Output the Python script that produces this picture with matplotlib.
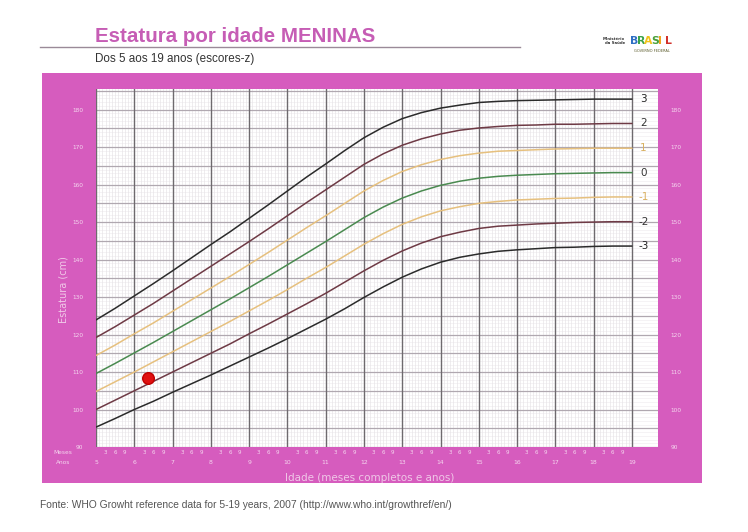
import matplotlib
matplotlib.use("Agg")
import matplotlib.pyplot as plt
import matplotlib.transforms as mtrans

# ---------------- data ----------------
ages = [5.0, 5.5, 6.0, 6.5, 7.0, 7.5, 8.0, 8.5, 9.0, 9.5, 10.0, 10.5, 11.0, 11.5,
        12.0, 12.5, 13.0, 13.5, 14.0, 14.5, 15.0, 15.5, 16.0, 16.5, 17.0, 17.5,
        18.0, 18.5, 19.0]

z_m3 = [95.3, 97.6, 100.0, 102.2, 104.6, 106.9, 109.2, 111.6, 114.0, 116.4, 118.9,
        121.5, 124.1, 126.9, 129.9, 132.7, 135.3, 137.5, 139.3, 140.6, 141.5, 142.2,
        142.6, 142.9, 143.2, 143.3, 143.5, 143.6, 143.6]
z_m2 = [100.0, 102.5, 105.0, 107.5, 110.0, 112.5, 115.0, 117.5, 120.2, 122.8, 125.5,
        128.2, 131.0, 134.0, 137.0, 139.8, 142.3, 144.4, 146.1, 147.3, 148.3, 148.9,
        149.2, 149.5, 149.7, 149.9, 150.0, 150.1, 150.1]
z_m1 = [104.8, 107.4, 110.0, 112.7, 115.4, 118.1, 120.8, 123.5, 126.3, 129.1, 132.0,
        135.0, 137.9, 141.0, 144.1, 146.9, 149.4, 151.4, 153.0, 154.1, 155.0, 155.5,
        155.9, 156.1, 156.3, 156.4, 156.6, 156.7, 156.7]
z_0 = [109.6, 112.3, 115.1, 117.9, 120.8, 123.7, 126.6, 129.5, 132.5, 135.5, 138.6,
       141.7, 144.8, 148.0, 151.2, 154.0, 156.4, 158.3, 159.8, 160.9, 161.7, 162.2,
       162.5, 162.7, 162.9, 163.0, 163.1, 163.2, 163.2]
z_p1 = [114.4, 117.2, 120.2, 123.1, 126.2, 129.3, 132.4, 135.5, 138.7, 141.9, 145.2,
        148.5, 151.7, 155.0, 158.3, 161.1, 163.5, 165.3, 166.7, 167.7, 168.4, 168.9,
        169.1, 169.3, 169.5, 169.6, 169.7, 169.7, 169.7]
z_p2 = [119.2, 122.1, 125.2, 128.3, 131.6, 134.9, 138.2, 141.5, 144.8, 148.2, 151.7,
        155.2, 158.6, 162.0, 165.4, 168.2, 170.5, 172.2, 173.5, 174.5, 175.1, 175.5,
        175.8, 175.9, 176.1, 176.1, 176.2, 176.3, 176.3]
z_p3 = [123.9, 127.0, 130.3, 133.6, 137.0, 140.5, 144.0, 147.4, 151.0, 154.6, 158.3,
        162.0, 165.5, 169.1, 172.5, 175.3, 177.6, 179.2, 180.4, 181.2, 181.9, 182.2,
        182.4, 182.5, 182.6, 182.7, 182.8, 182.8, 182.8]

z_labels = ["3", "2", "1", "0", "-1", "-2", "-3"]
year_labels = list(range(5, 20))
month_labels = ["3", "6", "9"]
height_ticks = [90, 100, 110, 120, 130, 140, 150, 160, 170, 180]

point_age = [6.36]
point_height = [108.4]

# ---------------- figure ----------------
W, H = 748, 532
fig = plt.figure(figsize=(W / 100, H / 100), dpi=100)
fig.patch.set_facecolor("white")


def fx(px):
    return px / W


def fy(py):
    return 1 - py / H


MAG = "#d65cbe"

# magenta panel as a background axes
bg = fig.add_axes([fx(42), fy(483), fx(702) - fx(42), fy(73) - fy(483)])
bg.set_facecolor(MAG)
bg.set_xticks([])
bg.set_yticks([])
for s in bg.spines.values():
    s.set_visible(False)
bg.set_zorder(0)

# title area
fig.text(fx(95), fy(36), "Estatura por idade MENINAS", color="#c65db5",
         fontsize=14.8, fontweight="bold", family="Liberation Sans",
         ha="left", va="center")
fig.add_artist(plt.Line2D([fx(40), fx(520)], [fy(47), fy(47)], color="#9a8a98",
                          lw=1.0, transform=fig.transFigure))
fig.text(fx(95), fy(59), "Dos 5 aos 19 anos (escores-z)", color="#333333",
         fontsize=8.4, family="Liberation Sans", ha="left", va="center")

# logo (approximation)
fig.text(fx(625), fy(41), "Ministério\nda Saúde", color="#333333", fontsize=2.8,
         fontweight="bold", ha="right", va="center", linespacing=1.0)
logo_colors = ["#2f6fc4", "#3aa24a", "#f2c31b", "#4aa13a", "#f2a31b", "#d2312b"]
for i, (ch, c) in enumerate(zip("BRASIL", logo_colors)):
    fig.text(fx(630 + i * 7.0), fy(41), ch, color=c, fontsize=7.8,
             fontweight="bold", ha="left", va="center", family="DejaVu Sans")
fig.text(fx(652), fy(51), "GOVERNO FEDERAL", color="#5a5a2a", fontsize=2.6,
         ha="center", va="center")

# footer
fig.text(fx(40), fy(505),
         "Fonte: WHO Growht reference data for 5-19 years, 2007 (http://www.who.int/growthref/en/)",
         color="#555555", fontsize=7.4, family="Liberation Sans", ha="left", va="center")

# ---------------- axes ----------------
ax = fig.add_axes([fx(96), fy(447), fx(658) - fx(96), fy(89) - fy(447)])
ax.set_zorder(2)
ax.set_facecolor("white")
ax.set_xlim(5, 19.68)
ax.set_ylim(90, 185.5)
for s in ax.spines.values():
    s.set_visible(False)

# horizontal grid
for h in range(90, 186):
    if h % 5 == 0:
        ax.axhline(h, color="#b0a8b0", lw=0.9, zorder=1)
    else:
        ax.axhline(h, color="#eeeaee", lw=0.4, zorder=0.5)
# vertical grid
for y in year_labels[:-1]:
    for m in range(1, 12):
        ax.axvline(y + m / 12, color="#e4e0e4", lw=0.4, zorder=0.5)
for y in year_labels:
    ax.axvline(y, color="#6e6a6e", lw=1.0, zorder=1.2)

curves = [z_p3, z_p2, z_p1, z_0, z_m1, z_m2, z_m3]
colors = ["#2b2b2b", "#6e3a45", "#e6c07e", "#4a8a50", "#e6c07e", "#6e3a45", "#2b2b2b"]
label_colors = ["#222222", "#333333", "#d9b060", "#333333", "#d9b060", "#333333", "#222222"]
for vals, c, lab, lc in zip(curves, colors, z_labels, label_colors):
    ax.plot(ages, vals, color=c, lw=1.1, zorder=3, solid_capstyle="round")
    ax.text(19.3, vals[-1], lab, color=lc, fontsize=7.5, ha="center", va="center",
            zorder=4)

# point
ax.scatter(point_age, point_height, s=70, color="#e01010", edgecolor="#c00000",
           zorder=5)

# y tick labels on both sides
ax.set_yticks(height_ticks)
ax.set_yticklabels([str(v) for v in height_ticks])
ax.tick_params(axis="y", length=0, pad=9, labelsize=4.2, labelcolor="#f4d6ee",
               labelleft=True, labelright=True)
ax.set_xticks([])

# x labels (months and years) below the axes
trans = mtrans.blended_transform_factory(ax.transData, fig.transFigure)
for y in year_labels:
    ax.text(y, fy(463), str(y), transform=trans, fontsize=4.4, color="#f4d6ee",
            ha="center", va="center", clip_on=False)
    if y < 19:
        for k, ml in enumerate(month_labels):
            ax.text(y + (k + 1) * 0.25, fy(452), ml, transform=trans, fontsize=4.0,
                    color="#f4d6ee", ha="center", va="center", clip_on=False)
fig.text(fx(63), fy(452), "Meses", fontsize=4.2, color="#f4d6ee", ha="center", va="center")
fig.text(fx(63), fy(462), "Anos", fontsize=4.2, color="#f4d6ee", ha="center", va="center")

fig.text(fx(63), fy(290), "Estatura (cm)", rotation=90, fontsize=7, color="#f0c8e8",
         ha="center", va="center")
fig.text(fx(370), fy(478), "Idade (meses completos e anos)", fontsize=7.5,
         color="#f0c8e8", ha="center", va="center")

fig.savefig("out.png", dpi=100, facecolor="white")
